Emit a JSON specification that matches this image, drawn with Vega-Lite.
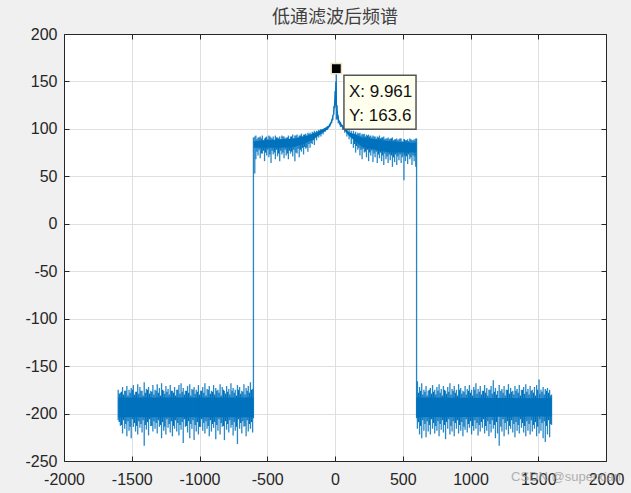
{"$schema":"https://vega.github.io/schema/vega-lite/v6.json","width":542,"height":427,"autosize":{"type":"none"},"padding":{"left":64,"top":34,"right":25,"bottom":32},"background":"#f0f0f0","view":{"fill":"white","stroke":null},"title":{"text":"低通滤波后频谱","font":"Noto Sans CJK SC","fontSize":18,"fontWeight":"normal","color":"#404040","offset":-1},
"resolve":{"axis":{"x":"independent","y":"independent"}},
"datasets":{"coreA":[{"f":-1600,"a":-204,"b":-183},{"f":-600,"a":-204,"b":-183}],"coreC":[{"f":600,"a":-204,"b":-183},{"f":1600,"a":-203,"b":-184}],"coreB":[{"f":-600,"a":80,"b":87},{"f":-400,"a":80,"b":89},{"f":-300,"a":81,"b":90},{"f":-200,"a":86,"b":93},{"f":-150,"a":90,"b":96},{"f":-100,"a":95,"b":99},{"f":-50,"a":100,"b":103},{"f":-30,"a":104,"b":108},{"f":-16,"a":110,"b":115},{"f":-8,"a":117,"b":125},{"f":0,"a":125,"b":140},{"f":10,"a":125,"b":150},{"f":16,"a":112,"b":122},{"f":30,"a":105,"b":110},{"f":50,"a":102,"b":105},{"f":100,"a":93,"b":97},{"f":200,"a":81,"b":91},{"f":400,"a":75,"b":87},{"f":600,"a":75,"b":85}],
"tip":[{"x0":66,"x1":598,"y0":99.6,"y1":156.6}],
"tipText":[{"x":103,"y":138.7,"t":"X: 9.961"},{"x":103,"y":113.5,"t":"Y: 163.6"}],
"peak":[{"f":9.961,"v":163.6}],
"mark":[{"x":1705,"y":-267,"t":"CSDN @superxian"}],
"fill":[
{"f":-1592,"l":-209,"h":-179},{"f":-1576,"l":-212,"h":-177},{"f":-1560,"l":-207,"h":-180},{"f":-1544,"l":-211,"h":-176},{"f":-1528,"l":-208,"h":-181},{"f":-1512,"l":-214,"h":-178},{"f":-1496,"l":-206,"h":-175},{"f":-1480,"l":-210,"h":-180},{"f":-1464,"l":-213,"h":-177},{"f":-1448,"l":-208,"h":-179},{"f":-1432,"l":-211,"h":-176},{"f":-1416,"l":-207,"h":-181},{"f":-1400,"l":-212,"h":-178},{"f":-1384,"l":-209,"h":-175},{"f":-1368,"l":-206,"h":-179},{"f":-1352,"l":-213,"h":-177},{"f":-1336,"l":-208,"h":-180},{"f":-1320,"l":-210,"h":-176},{"f":-1304,"l":-207,"h":-178},{"f":-1288,"l":-212,"h":-181},{"f":-1272,"l":-209,"h":-175},{"f":-1256,"l":-214,"h":-179},{"f":-1240,"l":-206,"h":-177},{"f":-1224,"l":-211,"h":-180},{"f":-1208,"l":-208,"h":-176},{"f":-1192,"l":-213,"h":-178},{"f":-1176,"l":-207,"h":-181},{"f":-1160,"l":-210,"h":-175},{"f":-1144,"l":-212,"h":-179},{"f":-1128,"l":-209,"h":-177},{"f":-1112,"l":-206,"h":-180},{"f":-1096,"l":-213,"h":-176},{"f":-1080,"l":-208,"h":-178},{"f":-1064,"l":-211,"h":-181},{"f":-1048,"l":-207,"h":-175},{"f":-1032,"l":-212,"h":-179},{"f":-1016,"l":-209,"h":-177},{"f":-1000,"l":-214,"h":-180},{"f":-984,"l":-206,"h":-176},{"f":-968,"l":-210,"h":-178},{"f":-952,"l":-208,"h":-181},{"f":-936,"l":-213,"h":-175},{"f":-920,"l":-207,"h":-179},{"f":-904,"l":-211,"h":-177},{"f":-888,"l":-209,"h":-180},{"f":-872,"l":-212,"h":-176},{"f":-856,"l":-206,"h":-178},{"f":-840,"l":-210,"h":-181},{"f":-824,"l":-213,"h":-175},{"f":-808,"l":-208,"h":-179},{"f":-792,"l":-211,"h":-177},{"f":-776,"l":-207,"h":-180},{"f":-760,"l":-212,"h":-176},{"f":-744,"l":-209,"h":-178},{"f":-728,"l":-214,"h":-181},{"f":-712,"l":-206,"h":-175},{"f":-696,"l":-210,"h":-179},{"f":-680,"l":-208,"h":-177},{"f":-664,"l":-213,"h":-180},{"f":-648,"l":-207,"h":-176},{"f":-632,"l":-211,"h":-178},{"f":-616,"l":-209,"h":-175},
{"f":-576,"l":76,"h":89},{"f":-560,"l":78,"h":91},{"f":-544,"l":74,"h":90},{"f":-528,"l":77,"h":88},{"f":-512,"l":75,"h":91},{"f":-496,"l":78,"h":89},{"f":-480,"l":73,"h":92},{"f":-464,"l":77,"h":90},{"f":-448,"l":75,"h":88},{"f":-432,"l":78,"h":91},{"f":-416,"l":74,"h":90},{"f":-400,"l":77,"h":89},{"f":-384,"l":75,"h":92},{"f":-368,"l":78,"h":90},{"f":-352,"l":74,"h":91},{"f":-336,"l":77,"h":89},{"f":-320,"l":76,"h":92},{"f":-304,"l":78,"h":90},{"f":-288,"l":75,"h":93},{"f":-272,"l":79,"h":91},{"f":-256,"l":78,"h":93},{"f":-240,"l":80,"h":92},{"f":-224,"l":81,"h":94},{"f":-208,"l":80,"h":93},{"f":-192,"l":84,"h":95},{"f":-176,"l":85,"h":94},{"f":-160,"l":88,"h":96},
{"f":144,"l":84,"h":95},{"f":160,"l":82,"h":94},{"f":176,"l":80,"h":95},{"f":192,"l":78,"h":93},{"f":208,"l":79,"h":94},{"f":224,"l":76,"h":92},{"f":240,"l":78,"h":93},{"f":256,"l":75,"h":92},{"f":272,"l":77,"h":91},{"f":288,"l":74,"h":92},{"f":304,"l":76,"h":90},{"f":320,"l":73,"h":91},{"f":336,"l":75,"h":90},{"f":352,"l":72,"h":91},{"f":368,"l":74,"h":89},{"f":384,"l":71,"h":90},{"f":400,"l":73,"h":89},{"f":416,"l":72,"h":90},{"f":432,"l":70,"h":88},{"f":448,"l":73,"h":89},{"f":464,"l":71,"h":88},{"f":480,"l":73,"h":90},{"f":496,"l":70,"h":87},{"f":512,"l":72,"h":89},{"f":528,"l":71,"h":88},{"f":544,"l":73,"h":87},{"f":560,"l":70,"h":89},{"f":576,"l":72,"h":88},{"f":590,"l":71,"h":87},
{"f":616,"l":-209,"h":-178},{"f":632,"l":-213,"h":-176},{"f":648,"l":-207,"h":-180},{"f":664,"l":-211,"h":-177},{"f":680,"l":-208,"h":-181},{"f":696,"l":-212,"h":-175},{"f":712,"l":-206,"h":-179},{"f":728,"l":-210,"h":-177},{"f":744,"l":-213,"h":-180},{"f":760,"l":-208,"h":-176},{"f":776,"l":-211,"h":-178},{"f":792,"l":-207,"h":-181},{"f":808,"l":-212,"h":-175},{"f":824,"l":-209,"h":-179},{"f":840,"l":-206,"h":-177},{"f":856,"l":-213,"h":-180},{"f":872,"l":-208,"h":-176},{"f":888,"l":-210,"h":-178},{"f":904,"l":-207,"h":-181},{"f":920,"l":-212,"h":-175},{"f":936,"l":-209,"h":-179},{"f":952,"l":-214,"h":-177},{"f":968,"l":-206,"h":-180},{"f":984,"l":-211,"h":-176},{"f":1000,"l":-208,"h":-178},{"f":1016,"l":-213,"h":-181},{"f":1032,"l":-207,"h":-175},{"f":1048,"l":-210,"h":-179},{"f":1064,"l":-212,"h":-177},{"f":1080,"l":-209,"h":-180},{"f":1096,"l":-206,"h":-176},{"f":1112,"l":-213,"h":-178},{"f":1128,"l":-208,"h":-181},{"f":1144,"l":-211,"h":-175},{"f":1160,"l":-207,"h":-179},{"f":1176,"l":-212,"h":-177},{"f":1192,"l":-209,"h":-180},{"f":1224,"l":-214,"h":-176},{"f":1240,"l":-206,"h":-178},{"f":1256,"l":-210,"h":-181},{"f":1272,"l":-208,"h":-175},{"f":1288,"l":-213,"h":-179},{"f":1304,"l":-207,"h":-177},{"f":1320,"l":-211,"h":-180},{"f":1336,"l":-209,"h":-176},{"f":1352,"l":-212,"h":-178},{"f":1368,"l":-206,"h":-181},{"f":1384,"l":-210,"h":-175},{"f":1400,"l":-213,"h":-179},{"f":1416,"l":-208,"h":-177},{"f":1432,"l":-211,"h":-180},{"f":1448,"l":-207,"h":-176},{"f":1464,"l":-212,"h":-178},{"f":1480,"l":-209,"h":-181},{"f":1496,"l":-214,"h":-175},{"f":1512,"l":-206,"h":-179},{"f":1528,"l":-210,"h":-177},{"f":1544,"l":-208,"h":-180},{"f":1560,"l":-213,"h":-176},{"f":1576,"l":-207,"h":-178},{"f":1592,"l":-211,"h":-181}],
"spec":[
{"f":-1600,"l":-207,"h":-175},{"f":-1584,"l":-213,"h":-178},{"f":-1568,"l":-221,"h":-172},{"f":-1552,"l":-216,"h":-176},{"f":-1536,"l":-224,"h":-171},{"f":-1520,"l":-218,"h":-175},{"f":-1504,"l":-226,"h":-173},{"f":-1488,"l":-214,"h":-170},{"f":-1472,"l":-219,"h":-177},{"f":-1456,"l":-222,"h":-169},{"f":-1440,"l":-215,"h":-172},{"f":-1424,"l":-220,"h":-176},{"f":-1408,"l":-234,"h":-167},{"f":-1392,"l":-217,"h":-174},{"f":-1376,"l":-223,"h":-172},{"f":-1360,"l":-213,"h":-176},{"f":-1344,"l":-219,"h":-170},{"f":-1328,"l":-216,"h":-175},{"f":-1312,"l":-221,"h":-169},{"f":-1296,"l":-214,"h":-173},{"f":-1280,"l":-226,"h":-168},{"f":-1264,"l":-218,"h":-176},{"f":-1248,"l":-222,"h":-171},{"f":-1232,"l":-215,"h":-174},{"f":-1216,"l":-220,"h":-170},{"f":-1200,"l":-224,"h":-176},{"f":-1184,"l":-216,"h":-172},{"f":-1168,"l":-219,"h":-175},{"f":-1152,"l":-223,"h":-170},{"f":-1136,"l":-217,"h":-168},{"f":-1120,"l":-231,"h":-173},{"f":-1104,"l":-214,"h":-176},{"f":-1088,"l":-220,"h":-171},{"f":-1072,"l":-226,"h":-169},{"f":-1056,"l":-216,"h":-174},{"f":-1040,"l":-228,"h":-172},{"f":-1024,"l":-219,"h":-175},{"f":-1008,"l":-222,"h":-170},{"f":-992,"l":-214,"h":-176},{"f":-976,"l":-218,"h":-172},{"f":-960,"l":-221,"h":-168},{"f":-944,"l":-216,"h":-174},{"f":-928,"l":-224,"h":-171},{"f":-912,"l":-219,"h":-176},{"f":-896,"l":-215,"h":-170},{"f":-880,"l":-227,"h":-173},{"f":-864,"l":-218,"h":-175},{"f":-848,"l":-222,"h":-169},{"f":-832,"l":-214,"h":-172},{"f":-816,"l":-228,"h":-176},{"f":-800,"l":-217,"h":-171},{"f":-784,"l":-220,"h":-174},{"f":-768,"l":-215,"h":-168},{"f":-752,"l":-223,"h":-173},{"f":-736,"l":-218,"h":-175},{"f":-720,"l":-232,"h":-170},{"f":-704,"l":-216,"h":-172},{"f":-688,"l":-221,"h":-176},{"f":-672,"l":-214,"h":-169},{"f":-656,"l":-224,"h":-173},{"f":-640,"l":-219,"h":-171},{"f":-624,"l":-216,"h":-167},{"f":-608,"l":-220,"h":-174},
{"f":-602,"l":-205,"h":91},
{"f":-592,"l":53,"h":92},{"f":-584,"l":68,"h":93},{"f":-568,"l":72,"h":91},{"f":-552,"l":69,"h":92},{"f":-536,"l":74,"h":93},{"f":-520,"l":66,"h":90},{"f":-504,"l":72,"h":92},{"f":-488,"l":70,"h":93},{"f":-472,"l":64,"h":91},{"f":-456,"l":73,"h":92},{"f":-440,"l":68,"h":93},{"f":-424,"l":71,"h":91},{"f":-408,"l":66,"h":92},{"f":-392,"l":73,"h":93},{"f":-376,"l":69,"h":92},{"f":-360,"l":72,"h":91},{"f":-344,"l":68,"h":93},{"f":-328,"l":74,"h":92},{"f":-312,"l":71,"h":94},{"f":-296,"l":66,"h":93},{"f":-280,"l":74,"h":94},{"f":-264,"l":70,"h":93},{"f":-248,"l":76,"h":95},{"f":-232,"l":73,"h":94},{"f":-216,"l":79,"h":95},{"f":-200,"l":76,"h":96},{"f":-184,"l":80,"h":96},{"f":-168,"l":84,"h":97},{"f":-152,"l":83,"h":98},{"f":-136,"l":88,"h":98},{"f":-120,"l":91,"h":99},{"f":-104,"l":92,"h":100},{"f":-88,"l":94,"h":100},{"f":-72,"l":97,"h":101},{"f":-56,"l":99,"h":103},{"f":-40,"l":102,"h":105},{"f":-24,"l":106,"h":110},{"f":-16,"l":109,"h":115},{"f":-8,"l":115,"h":124},{"f":0,"l":122,"h":140},{"f":5,"l":125,"h":150},{"f":9.961,"l":110,"h":163.6},{"f":16,"l":110,"h":125},{"f":24,"l":106,"h":114},{"f":40,"l":102,"h":107},{"f":56,"l":99,"h":104},{"f":72,"l":96,"h":102},{"f":88,"l":92,"h":100},{"f":104,"l":89,"h":99},{"f":120,"l":84,"h":98},{"f":136,"l":80,"h":98},{"f":152,"l":75,"h":97},{"f":168,"l":78,"h":96},{"f":184,"l":72,"h":96},{"f":200,"l":68,"h":95},{"f":216,"l":75,"h":95},{"f":232,"l":70,"h":94},{"f":248,"l":66,"h":94},{"f":264,"l":72,"h":93},{"f":280,"l":65,"h":93},{"f":296,"l":70,"h":92},{"f":312,"l":64,"h":92},{"f":328,"l":69,"h":93},{"f":344,"l":66,"h":91},{"f":360,"l":62,"h":92},{"f":376,"l":68,"h":90},{"f":392,"l":64,"h":91},{"f":408,"l":67,"h":90},{"f":424,"l":60,"h":91},{"f":440,"l":65,"h":89},{"f":456,"l":62,"h":90},{"f":472,"l":67,"h":89},{"f":488,"l":64,"h":90},{"f":509,"l":46,"h":89},{"f":520,"l":66,"h":88},{"f":536,"l":63,"h":89},{"f":552,"l":68,"h":90},{"f":568,"l":62,"h":88},{"f":584,"l":66,"h":89},{"f":596,"l":60,"h":90},
{"f":602,"l":-205,"h":90},
{"f":608,"l":-216,"h":-166},{"f":624,"l":-222,"h":-172},{"f":640,"l":-226,"h":-168},{"f":656,"l":-218,"h":-175},{"f":672,"l":-225,"h":-171},{"f":688,"l":-219,"h":-176},{"f":704,"l":-222,"h":-173},{"f":720,"l":-216,"h":-170},{"f":736,"l":-221,"h":-175},{"f":752,"l":-218,"h":-172},{"f":768,"l":-224,"h":-169},{"f":784,"l":-217,"h":-174},{"f":800,"l":-220,"h":-171},{"f":816,"l":-227,"h":-176},{"f":832,"l":-216,"h":-172},{"f":848,"l":-222,"h":-168},{"f":864,"l":-219,"h":-174},{"f":880,"l":-224,"h":-171},{"f":896,"l":-216,"h":-175},{"f":912,"l":-221,"h":-169},{"f":928,"l":-218,"h":-173},{"f":944,"l":-224,"h":-176},{"f":960,"l":-217,"h":-171},{"f":976,"l":-220,"h":-174},{"f":992,"l":-215,"h":-170},{"f":1008,"l":-222,"h":-175},{"f":1024,"l":-218,"h":-172},{"f":1040,"l":-216,"h":-168},{"f":1056,"l":-223,"h":-174},{"f":1072,"l":-219,"h":-171},{"f":1088,"l":-215,"h":-176},{"f":1104,"l":-221,"h":-170},{"f":1120,"l":-218,"h":-173},{"f":1136,"l":-224,"h":-175},{"f":1152,"l":-220,"h":-171},{"f":1168,"l":-216,"h":-165},{"f":1184,"l":-226,"h":-173},{"f":1200,"l":-221,"h":-176},{"f":1212,"l":-234,"h":-170},{"f":1232,"l":-219,"h":-174},{"f":1248,"l":-224,"h":-171},{"f":1264,"l":-217,"h":-175},{"f":1280,"l":-222,"h":-169},{"f":1296,"l":-216,"h":-173},{"f":1312,"l":-220,"h":-176},{"f":1328,"l":-225,"h":-171},{"f":1344,"l":-218,"h":-174},{"f":1360,"l":-221,"h":-170},{"f":1376,"l":-215,"h":-175},{"f":1392,"l":-220,"h":-172},{"f":1408,"l":-224,"h":-169},{"f":1424,"l":-218,"h":-174},{"f":1440,"l":-222,"h":-171},{"f":1456,"l":-219,"h":-175},{"f":1472,"l":-216,"h":-172},{"f":1488,"l":-224,"h":-170},{"f":1506,"l":-221,"h":-164},{"f":1520,"l":-218,"h":-175},{"f":1536,"l":-226,"h":-172},{"f":1552,"l":-230,"h":-174},{"f":1568,"l":-222,"h":-173},{"f":1584,"l":-225,"h":-175},{"f":1598,"l":-212,"h":-180}]},
"layer":[
{"data":{"name":"peak"},"mark":{"type":"point","opacity":0},
"encoding":{"x":{"field":"f","type":"quantitative","title":null,"scale":{"domain":[-2000,2000],"nice":false},"axis":{"values":[-2000,-1500,-1000,-500,0,500,1000,1500,2000],"labelExpr":"''+datum.value","orient":"bottom","grid":true,"gridColor":"#dfdfdf","gridOpacity":1,"domainColor":"#262626","tickColor":"#262626","tickSize":-5,"labelColor":"#262626","labelFont":"Liberation Sans","labelFontSize":16,"labelPadding":15,"labelOverlap":false,"labelFlush":false}},
"y":{"field":"v","type":"quantitative","title":null,"scale":{"domain":[-250,200],"nice":false},"axis":{"values":[-250,-200,-150,-100,-50,0,50,100,150,200],"labelExpr":"''+datum.value","orient":"left","grid":true,"gridColor":"#dfdfdf","gridOpacity":1,"domainColor":"#262626","tickColor":"#262626","tickSize":-5,"labelColor":"#262626","labelFont":"Liberation Sans","labelFontSize":16,"labelPadding":12,"labelOverlap":false}}}},
{"data":{"name":"peak"},"mark":{"type":"point","opacity":0},
"encoding":{"x":{"field":"f","type":"quantitative","title":null,"axis":{"values":[-2000,-1500,-1000,-500,0,500,1000,1500,2000],"orient":"top","grid":false,"labels":false,"domainColor":"#262626","tickColor":"#262626","tickSize":-5}},
"y":{"field":"v","type":"quantitative","title":null,"axis":{"values":[-250,-200,-150,-100,-50,0,50,100,150,200],"orient":"right","grid":false,"labels":false,"domainColor":"#262626","tickColor":"#262626","tickSize":-5}}}},
{"data":{"name":"coreA"},"mark":{"type":"area","color":"#0072bd"},"encoding":{"x":{"field":"f","type":"quantitative","axis":null},"y":{"field":"a","type":"quantitative","axis":null},"y2":{"field":"b"}}},
{"data":{"name":"coreC"},"mark":{"type":"area","color":"#0072bd"},"encoding":{"x":{"field":"f","type":"quantitative","axis":null},"y":{"field":"a","type":"quantitative","axis":null},"y2":{"field":"b"}}},
{"data":{"name":"coreB"},"mark":{"type":"area","color":"#0072bd"},"encoding":{"x":{"field":"f","type":"quantitative","axis":null},"y":{"field":"a","type":"quantitative","axis":null},"y2":{"field":"b"}}},
{"data":{"name":"fill"},"mark":{"type":"rule","color":"#0072bd","strokeWidth":1.3},"encoding":{"x":{"field":"f","type":"quantitative","axis":null},"y":{"field":"l","type":"quantitative","axis":null},"y2":{"field":"h"}}},
{"data":{"name":"spec"},"mark":{"type":"rule","color":"#0072bd","strokeWidth":1.3,"opacity":0.85},"encoding":{"x":{"field":"f","type":"quantitative","axis":null},"y":{"field":"l","type":"quantitative","axis":null},"y2":{"field":"h"}}},
{"data":{"name":"peak"},"mark":{"type":"square","size":105,"color":"#000000","filled":true,"opacity":1,"stroke":"#e8e4c0","strokeWidth":1.5},"encoding":{"x":{"field":"f","type":"quantitative","axis":null},"y":{"field":"v","type":"quantitative","axis":null}}},
{"data":{"name":"tip"},"mark":{"type":"rect","fill":"#ffffee","stroke":"#555555","strokeWidth":1.5},"encoding":{"x":{"field":"x0","type":"quantitative","axis":null},"x2":{"field":"x1"},"y":{"field":"y0","type":"quantitative","axis":null},"y2":{"field":"y1"}}},
{"data":{"name":"tipText"},"mark":{"type":"text","align":"left","baseline":"middle","font":"Liberation Sans","fontSize":17,"color":"#111111"},"encoding":{"x":{"field":"x","type":"quantitative","axis":null},"y":{"field":"y","type":"quantitative","axis":null},"text":{"field":"t"}}},
{"data":{"name":"mark"},"mark":{"type":"text","align":"center","baseline":"middle","font":"Liberation Sans","fontSize":13,"color":"#999999","opacity":0.75,"clip":false},"encoding":{"x":{"field":"x","type":"quantitative","axis":null},"y":{"field":"y","type":"quantitative","axis":null},"text":{"field":"t"}}}
]}
